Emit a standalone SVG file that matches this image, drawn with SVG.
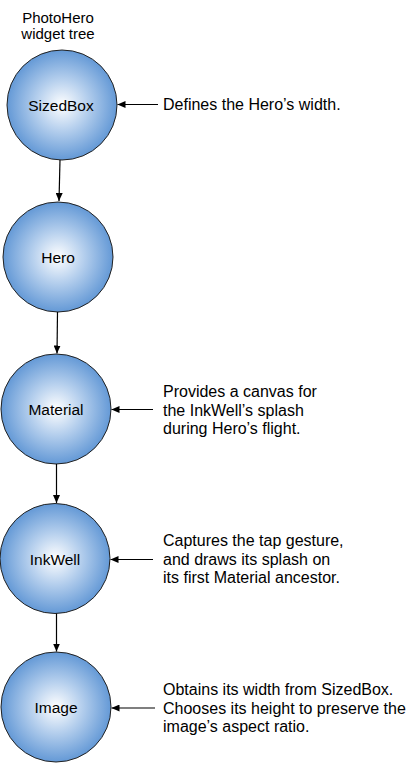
<svg xmlns="http://www.w3.org/2000/svg" width="413" height="764" viewBox="0 0 413 764">
<defs>
<radialGradient id="g" cx="50%" cy="50%" r="50%">
<stop offset="0%" stop-color="#ffffff"/>
<stop offset="45%" stop-color="#b8d1ee"/>
<stop offset="100%" stop-color="#6499d6"/>
</radialGradient>
<marker id="ah" viewBox="0 0 8 7" refX="8" refY="3.5" markerWidth="8" markerHeight="7" markerUnits="userSpaceOnUse" orient="auto">
<path d="M0,0 L8,3.5 L0,7 z" fill="#000"/>
</marker>
<style>
circle{fill:url(#g);stroke:#222;stroke-width:1}
text{font-family:"Liberation Sans",Arial,sans-serif;fill:#000}
.n{font-size:15.5px;text-anchor:middle}
.t{font-size:15px;text-anchor:middle}
.d{font-size:16px}
.c line{stroke:#000;stroke-width:1.2;marker-end:url(#ah)}
</style>
</defs>
<g id="title"><text class="t" x="58" y="23">PhotoHero</text><text class="t" x="58" y="38.5">widget tree</text></g>
<g id="sizedbox"><circle cx="62" cy="105" r="55"/><text class="n" x="61" y="111">SizedBox</text></g>
<g id="hero"><circle cx="58" cy="257" r="55"/><text class="n" x="58" y="263">Hero</text></g>
<g id="material"><circle cx="56" cy="409" r="55"/><text class="n" x="56" y="415">Material</text></g>
<g id="inkwell"><circle cx="55" cy="558.5" r="55"/><text class="n" x="55" y="564.5">InkWell</text></g>
<g id="image"><circle cx="56" cy="707" r="55"/><text class="n" x="56" y="713">Image</text></g>
<g id="notes">
<text class="d" x="163" y="110">Defines the Hero’s width.</text>
<text class="d" x="163" y="397">Provides a canvas for</text>
<text class="d" x="163" y="415.5">the InkWell’s splash</text>
<text class="d" x="163" y="434">during Hero’s flight.</text>
<text class="d" x="163" y="546">Captures the tap gesture,</text>
<text class="d" x="163" y="564.5">and draws its splash on</text>
<text class="d" x="163" y="583">its first Material ancestor.</text>
<text class="d" x="163" y="695">Obtains its width from SizedBox.</text>
<text class="d" x="163" y="713.5">Chooses its height to preserve the</text>
<text class="d" x="163" y="732">image’s aspect ratio.</text>
</g>
<g id="connectors" class="c">
<line x1="60" y1="160" x2="59" y2="201"/>
<line x1="57.5" y1="312" x2="57" y2="353.5"/>
<line x1="56.5" y1="464" x2="56.5" y2="503"/>
<line x1="56.5" y1="613.5" x2="56.5" y2="651.5"/>
<line x1="158" y1="104.5" x2="117.5" y2="104.5"/>
<line x1="153" y1="409.5" x2="111.5" y2="409.5"/>
<line x1="153" y1="559.5" x2="110.5" y2="559.5"/>
<line x1="155" y1="708" x2="111.5" y2="708"/>
</g>
</svg>
